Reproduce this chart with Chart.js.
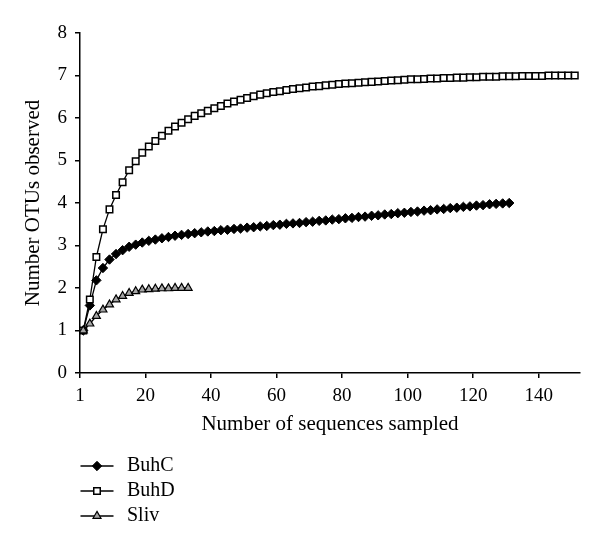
<!DOCTYPE html>
<html>
<head>
<meta charset="utf-8">
<script src="https://cdn.jsdelivr.net/npm/chart.js@4.4.1/dist/chart.umd.min.js"></script>
<style>
  html, body { margin: 0; padding: 0; background: #ffffff; }
  #wrap { width: 600px; height: 549px; position: relative; }
</style>
</head>
<body>
<div id="wrap"><canvas id="c" width="600" height="549"></canvas></div>
<script>
// ---- data ----
const sampleSizes = [1,3,5,7,9,11,13,15,17,19,21,23,25,27,29,31,33,35,37,39,
  41,43,45,47,49,51,53,55,57,59,61,63,65,67,69,71,73,75,77,79,
  81,83,85,87,89,91,93,95,97,99,101,103,105,107,109,111,113,115,117,119,
  121,123,125,127,129,131,133,135,137,139,141,143,145,147,149,151];

const seriesNames = ['BuhC', 'BuhD', 'Sliv'];

const buhC = [1.00,1.59,2.18,2.47,2.67,2.80,2.89,2.97,3.02,3.07,
  3.11,3.14,3.17,3.20,3.23,3.25,3.27,3.29,3.31,3.33,
  3.34,3.36,3.37,3.39,3.40,3.42,3.43,3.45,3.46,3.48,
  3.49,3.51,3.52,3.53,3.55,3.56,3.58,3.59,3.61,3.62,
  3.64,3.65,3.67,3.68,3.70,3.71,3.73,3.74,3.76,3.77,
  3.79,3.80,3.82,3.83,3.85,3.86,3.88,3.89,3.91,3.92,
  3.94,3.95,3.97,3.98,3.99,4.00];

const buhD = [1.00,1.73,2.73,3.38,3.85,4.19,4.49,4.77,4.98,5.18,
  5.33,5.46,5.58,5.70,5.80,5.89,5.97,6.05,6.11,6.17,
  6.23,6.28,6.34,6.39,6.43,6.47,6.51,6.55,6.58,6.61,
  6.63,6.66,6.68,6.70,6.72,6.74,6.75,6.77,6.78,6.80,
  6.81,6.82,6.83,6.84,6.85,6.86,6.87,6.88,6.89,6.90,
  6.91,6.91,6.92,6.93,6.93,6.94,6.94,6.95,6.95,6.96,
  6.96,6.97,6.97,6.97,6.98,6.98,6.98,6.99,6.99,6.99,
  6.99,7.00,7.00,7.00,7.00,7.00];

const sliv = [1.00,1.16,1.34,1.49,1.61,1.73,1.81,1.88,1.92,1.96,
  1.97,1.98,1.99,1.99,2.00,2.00,2.00];

const xTickValues = [0, 20, 40, 60, 80, 100, 120, 140];
const xTickLabels = ['1', '20', '40', '60', '80', '100', '120', '140'];
const yTickValues = [0, 1, 2, 3, 4, 5, 6, 7, 8];

const xTitle = 'Number of sequences sampled';
const yTitle = 'Number OTUs observed';

// ---- build chart ----
const toPoints = (vals) => vals.map((v, i) => ({ x: sampleSizes[i], y: v }));
const FONT = "'Liberation Serif', 'Times New Roman', serif";

const styles = [
  { pointStyle: 'rectRot', pointRadius: 4.7, bg: '#000000', bw: 1, order: 3 },
  { pointStyle: 'rect', pointRadius: 4.6, bg: '#ffffff', bw: 1.5, order: 2 },
  { pointStyle: 'triangle', pointRadius: 4.6, bg: '#a6a6a6', bw: 1.2, order: 1 }
];
const seriesData = [buhC, buhD, sliv];

const datasets = seriesNames.map((name, i) => ({
  label: name,
  data: toPoints(seriesData[i]),
  borderColor: '#000000',
  borderWidth: 1.3,
  backgroundColor: styles[i].bg,
  pointStyle: styles[i].pointStyle,
  pointRadius: styles[i].pointRadius,
  pointBackgroundColor: styles[i].bg,
  pointBorderColor: '#000000',
  pointBorderWidth: styles[i].bw,
  tension: 0,
  fill: false,
  order: styles[i].order
}));

function drawMarker(ctx, style, x, y, r, bg, bw) {
  ctx.save();
  ctx.beginPath();
  if (style === 'rectRot') {
    ctx.moveTo(x - r, y); ctx.lineTo(x, y - r); ctx.lineTo(x + r, y); ctx.lineTo(x, y + r);
  } else if (style === 'rect') {
    const s = r * Math.SQRT1_2;
    ctx.rect(x - s, y - s, 2 * s, 2 * s);
  } else {
    for (let k = 0; k < 3; k++) {
      const a = k * 2 * Math.PI / 3;
      const px = x + Math.sin(a) * r, py = y - Math.cos(a) * r;
      if (k === 0) ctx.moveTo(px, py); else ctx.lineTo(px, py);
    }
  }
  ctx.closePath();
  ctx.fillStyle = bg; ctx.fill();
  ctx.lineWidth = bw; ctx.strokeStyle = '#000000'; ctx.stroke();
  ctx.restore();
}

const legendPlugin = {
  id: 'vertLegend',
  afterDraw(chart) {
    const ctx = chart.ctx;
    const baseY = 466, step = 25;
    chart.data.datasets.forEach((ds, i) => {
      const y = baseY + step * i;
      ctx.save();
      ctx.strokeStyle = '#000000';
      ctx.lineWidth = 1.5;
      ctx.beginPath();
      ctx.moveTo(80.5, y); ctx.lineTo(113.5, y);
      ctx.stroke();
      drawMarker(ctx, styles[i].pointStyle, 97, y, styles[i].pointRadius, styles[i].bg, styles[i].bw);
      ctx.fillStyle = '#000000';
      ctx.font = '20px ' + FONT;
      ctx.textAlign = 'left';
      ctx.textBaseline = 'middle';
      ctx.fillText(ds.label, 127, y);
      ctx.restore();
    });
  }
};

new Chart(document.getElementById('c'), {
  type: 'line',
  data: { datasets },
  plugins: [legendPlugin],
  options: {
    responsive: false,
    animation: false,
    devicePixelRatio: 1,
    layout: { padding: { left: 0, right: 20, top: 33, bottom: 111 } },
    plugins: {
      legend: { display: false },
      tooltip: { enabled: false }
    },
    scales: {
      x: {
        type: 'linear',
        min: 0,
        max: 152.6,
        afterBuildTicks(scale) { scale.ticks = xTickValues.map(v => ({ value: v })); },
        afterFit(scale) { scale.height = 65; },
        ticks: {
          color: '#000000',
          font: { family: FONT, size: 19 },
          padding: 7,
          maxRotation: 0,
          autoSkip: false,
          callback: (v) => xTickLabels[xTickValues.indexOf(v)]
        },
        grid: { drawOnChartArea: false, drawTicks: true, tickLength: 5, color: '#000000', lineWidth: 1.5 },
        border: { display: true, color: '#000000', width: 1.5 },
        title: { display: true, text: xTitle, color: '#000000', font: { family: FONT, size: 21 }, padding: { top: 0, bottom: 1 } }
      },
      y: {
        type: 'linear',
        min: 0,
        max: 8,
        afterBuildTicks(scale) { scale.ticks = yTickValues.map(v => ({ value: v })); },
        afterFit(scale) { scale.width = 80; },
        ticks: {
          color: '#000000',
          font: { family: FONT, size: 19 },
          padding: 8
        },
        grid: { drawOnChartArea: false, drawTicks: true, tickLength: 5, color: '#000000', lineWidth: 1.5 },
        border: { display: true, color: '#000000', width: 1.5 },
        title: { display: true, text: yTitle, color: '#000000', font: { family: FONT, size: 21 }, padding: { top: 20.5, bottom: 0 } }
      }
    }
  }
});
</script>
</body>
</html>
